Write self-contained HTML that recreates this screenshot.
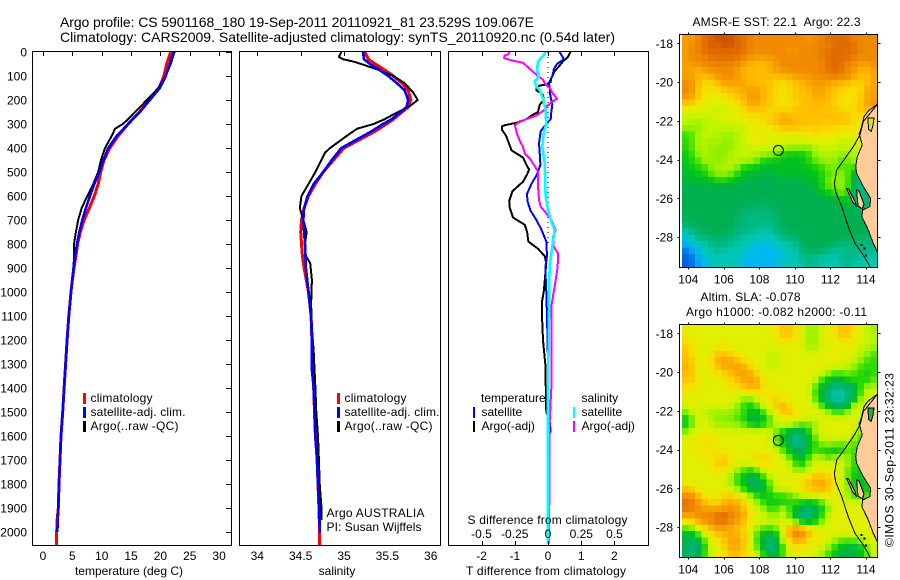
<!DOCTYPE html>
<html>
<head>
<meta charset="utf-8">
<title>Argo profile</title>
<style>
html,body{margin:0;padding:0;background:#fff;width:900px;height:580px;overflow:hidden}
svg{display:block}
text{font-family:"Liberation Sans",sans-serif;font-size:12px;fill:#000}
.big{font-size:14px}
.crisp{shape-rendering:crispEdges}
</style>
</head>
<body>
<svg id="chart" width="900" height="580" viewBox="0 0 900 580" xmlns="http://www.w3.org/2000/svg">
  <text class="big" x="60" y="27" textLength="474">Argo profile: CS 5901168_180 19-Sep-2011 20110921_81 23.529S 109.067E</text>
  <text class="big" x="60" y="42" textLength="555">Climatology: CARS2009. Satellite-adjusted climatology: synTS_20110920.nc (0.54d later)</text>

  <g id="layer-maps" class="crisp"></g>
  <g id="layer-lines" class="crisp"></g>
  <g id="layer-axes" class="crisp"></g>
  <g id="layer-labels"></g>

  <text x="129" y="575" text-anchor="middle">temperature (deg C)</text>
  <text x="337" y="575" text-anchor="middle">salinity</text>
  <text x="546" y="575" text-anchor="middle" textLength="160">T difference from climatology</text>
  <text x="467.5" y="524" textLength="160">S difference from climatology</text>

  <g class="crisp">
    <rect x="83" y="393" width="3" height="11" fill="#ff0000"/>
    <rect x="83" y="407" width="3" height="11" fill="#0000ff"/>
    <rect x="83" y="421" width="3" height="11" fill="#000"/>
    <rect x="337" y="393" width="3" height="11" fill="#ff0000"/>
    <rect x="337" y="407" width="3" height="11" fill="#0000ff"/>
    <rect x="337" y="421" width="3" height="11" fill="#000"/>
    <rect x="473" y="407" width="2" height="11" fill="#0000ff"/>
    <rect x="473" y="421" width="2" height="11" fill="#000"/>
    <rect x="573" y="407" width="2" height="11" fill="#00ffff"/>
    <rect x="573" y="421" width="2" height="11" fill="#ff00ff"/>
  </g>
  <text x="90.5" y="402" textLength="62">climatology</text>
  <text x="90.5" y="416" textLength="95">satellite-adj. clim.</text>
  <text x="90.5" y="430" textLength="88">Argo(..raw -QC)</text>
  <text x="344.5" y="402" textLength="62">climatology</text>
  <text x="344.5" y="416" textLength="95">satellite-adj. clim.</text>
  <text x="344.5" y="430" textLength="88">Argo(..raw -QC)</text>
  <text x="326.5" y="517" textLength="98">Argo AUSTRALIA</text>
  <text x="326.5" y="531" textLength="95">PI: Susan Wijffels</text>
  <text x="481" y="402">temperature</text>
  <text x="481.5" y="416">satellite</text>
  <text x="481.5" y="430">Argo(-adj)</text>
  <text x="581.5" y="402">salinity</text>
  <text x="581.5" y="416">satellite</text>
  <text x="581.5" y="430">Argo(-adj)</text>

  <text x="692.5" y="26" textLength="168" xml:space="preserve">AMSR-E SST: 22.1  Argo: 22.3</text>
  <text x="700.5" y="301" textLength="100">Altim. SLA: -0.078</text>
  <text x="686" y="316" textLength="181">Argo h1000: -0.082 h2000: -0.11</text>
  <text transform="translate(893.5,547) rotate(-90)" textLength="174">©IMOS 30-Sep-2011 23:32:23</text>
</svg>
<script>
// ---------- profile data ----------
var tickDepths = [0,100,200,300,400,500,600,700,800,900,1000,1100,1200,1300,1400,1500,1600,1700,1800,1900,2000];
var tempTicks = [0,5,10,15,20,25,30];
var salTicks = [34,34.5,35,35.5,36];
var diffTTicks = [-2,-1,0,1,2];
var diffSTicks = [-0.5,-0.25,0,0.25,0.5];

var depthTempClim = [0,50,100,150,200,250,300,350,400,450,500,550,600,650,700,750,800,850,880,950,1000,1100,1200,1300,1400,1500,1600,1700,1800,1900,1950,2000,2055];
var tempClim = [21.75,21.07,20.6,19.8,18.1,16.4,14.5,12.8,11.4,10.4,9.83,9.4,8.74,7.9,7.0,6.35,5.9,5.6,5.4,5.0,4.77,4.4,4.1,3.85,3.6,3.35,3.07,2.9,2.73,2.6,2.4,2.33,2.33];
var depthTempArgo = [0,50,100,150,200,250,280,300,320,350,400,450,500,550,600,650,700,750,800,850,900,1000,1100,1200,1300,1400,1500,1600,1700,1800,1900,2000];
var tempArgo = [22.4,21.75,20.9,19.65,17.7,15.67,14.5,13.6,12.27,11.7,10.56,9.88,9.4,8.57,7.55,6.6,6.0,5.6,5.28,5.28,5.2,4.77,4.4,4.1,3.85,3.6,3.35,3.07,2.88,2.71,2.58,2.44];
var depthTempSat = [0,50,100,150,200,250,300,350,400,450,500,550,600,650,700,750,800,850,900,950,1000,1050,1100,1200,1300,1400,1500,1600,1700,1800,1900,2000];
var tempSat = [22.2,21.6,20.9,19.9,18.2,16.5,14.5,12.55,11.1,10.3,9.6,8.74,8.0,7.3,6.7,6.2,5.8,5.5,5.2,5.0,4.77,4.6,4.4,4.1,3.85,3.6,3.35,3.07,2.9,2.73,2.6,2.44];

var depthSalClim = [0,30,50,75,100,130,160,200,230,250,280,300,330,350,400,450,500,550,600,650,700,750,800,850,900,1000,1100,1200,1300,1400,1500,1600,1700,1800,1900,2000,2055];
var salClim = [35.24,35.28,35.36,35.47,35.57,35.67,35.74,35.77,35.74,35.67,35.57,35.49,35.36,35.26,35.0,34.88,34.76,34.67,34.59,34.54,34.51,34.5,34.51,34.52,34.54,34.59,34.62,34.63,34.64,34.65,34.66,34.67,34.69,34.7,34.71,34.72,34.72];
var depthSalArgo = [0,20,30,40,50,75,100,130,170,200,225,260,280,300,320,350,400,420,500,550,600,650,700,750,800,850,880,950,1050,1150,1250,1400,1500,1600,1700,1800,1900,1950];
var salArgo = [34.97,34.94,34.99,35.11,35.2,35.4,35.57,35.7,35.8,35.85,35.76,35.57,35.47,35.34,35.15,35.03,34.84,34.78,34.67,34.59,34.51,34.49,34.53,34.57,34.55,34.56,34.61,34.63,34.62,34.63,34.65,34.67,34.68,34.7,34.71,34.72,34.74,34.74];
var depthSalSat = [0,30,50,75,100,130,160,200,230,250,280,300,330,350,400,450,500,550,600,650,700,800,900,1000,1100,1200,1325,1400,1500,1600,1700,1800,1900,2004];
var salSat = [35.22,35.23,35.3,35.41,35.51,35.61,35.7,35.74,35.72,35.65,35.55,35.45,35.32,35.22,34.97,34.86,34.76,34.65,34.58,34.54,34.53,34.55,34.56,34.59,34.62,34.63,34.63,34.65,34.66,34.67,34.69,34.7,34.715,34.72];

var depthDiffTArgo = [0,20,40,60,80,110,125,135,140,150,160,170,180,200,220,250,265,280,295,305,310,325,350,390,410,440,470,490,510,540,580,620,650,690,720,750,790,820,850,880,1000,1040,1100,1200,1300,1500,1510,2050];
var diffTArgo = [0.68,0.6,0.45,0.33,0.2,0.1,0.08,-0.03,-0.25,-0.35,-0.35,-0.22,-0.15,-0.13,-0.25,-0.3,-0.5,-0.65,-0.95,-1.3,-1.39,-1.38,-1.26,-1.15,-1.1,-0.75,-0.65,-0.57,-0.63,-0.75,-1.07,-1.17,-1.15,-1.05,-0.7,-0.63,-0.59,-0.3,-0.1,-0.05,-0.13,-0.18,-0.18,-0.15,-0.08,-0.05,-0.02,0];
var depthDiffTSat = [0,30,50,70,100,130,150,180,220,250,280,300,330,380,420,470,510,550,590,620,660,700,740,790,850,900,1000,1100,1300,1500,1580,1600,2050];
var diffTSat = [0.35,0.48,0.27,0.18,0.13,0.03,0.05,0.07,0.13,0.1,0.08,-0.05,-0.22,-0.27,-0.25,-0.23,-0.33,-0.5,-0.63,-0.62,-0.53,-0.35,-0.2,-0.05,-0.03,-0.08,-0.05,-0.03,0,0.02,0.08,0.02,0.02];
var depthDiffSArgo = [0,10,15,25,35,45,60,80,100,115,135,150,170,195,205,225,240,265,280,295,305,340,370,395,422,443,475,498,561,617,644,672,700,742,769,811,839,894,978,1061,1200,1400,1550,2050];
var diffSArgo = [-0.288,-0.3,-0.326,-0.33,-0.276,-0.188,-0.158,-0.118,-0.075,-0.038,-0.018,0.013,0.033,0.068,0.038,-0.008,-0.023,-0.088,-0.163,-0.226,-0.25,-0.233,-0.213,-0.188,-0.175,-0.138,-0.1,-0.075,-0.075,-0.068,-0.055,-0.013,0.025,0.058,0.038,0.043,0.075,0.073,0.05,0.025,0.025,0.025,0.012,0.008];
var depthDiffSSat = [0,8,40,75,103,124,144,158,193,242,297,339,394,464,547,603,658,707,742,783,839,894,978,1061,1200,1400,2050];
var diffSSat = [-0.025,-0.025,-0.075,-0.083,-0.07,-0.1,-0.088,-0.063,-0.038,-0.018,-0.013,-0.033,-0.043,-0.025,-0.02,-0.018,0,0.025,0.05,0.038,0.025,0.013,0.008,0.008,0.005,0,0];

// ---------- map data (one hex colour level per cell, 0 = warm/high ... f = cold/low) ----------
var mapLonTicks = [104,106,108,110,112,114];
var mapLatTicks = [18,20,22,24,26,28];
var mapLonRange = [103.645,114.62];
var mapLatRange = [17.57,29.55];
var floatLon = 109.067;
var floatLat = 23.529;
var levelColors = ['#cc5000','#e06c00','#f08a00','#f8a000','#ffbe00','#f5e000','#e0f000','#c0f400','#8cf000','#30dc00','#00c020','#00b050','#00b880','#00c8b4','#00b8f0','#0060e0'];
var sstRows = [
'33211 00011 22222 22223 22111 12222',
'32210 10011 22222 22222 22211 11222',
'32211 11111 22222 23322 21111 11222',
'32221 11112 23332 22222 22111 12222',
'33222 22223 44443 22222 22111 22332',
'33432 22234 44433 22222 22111 23443',
'33444 32233 44444 44333 22212 23443',
'22455 43333 44445 55443 33344 45543',
'22555 54443 33445 55444 33445 55533',
'23456 65544 32445 55444 33445 55533',
'44566 66554 33445 55544 44455 55432',
'66666 77665 44455 55444 44445 55443',
'67777 66665 55554 34444 44444 45555',
'77877 76766 55544 33444 44444 45555',
'88877 77777 66655 44445 45555 55555',
'99777 78877 66666 66665 55556 66666',
'99778 78877 55566 66666 66667 76666',
'99778 88877 77777 78889 77777 77777',
'a9878 88777 77788 aaaa9 87778 87776',
'a9978 88777 78aaa aaaa9 88889 88777',
'aa998 7778a aaaaa aaaaa a9889 98b77',
'aaaa8 8889a aabba aaaaa a9988 8bbba',
'baaaa 99aab bbbbb bbbba aa888 8cccb',
'bbbbb bbbbb bbbbb bbbbb b9888 8cccb',
'bbbbb bbbbb bbbbb bbbbb baa98 8cccb',
'bbbbb bbbbb bbbbb bbbbb bbbba 9cccb',
'bbbbb bbbbb bbcbb bbbbb bbbbb acccb',
'bbbbb bbbbc ccccb bbbbb bbbbb bbbbb',
'bbbbb bbbbc ccccc bbbbb bbbbb bbbbb',
'cbbbb bbbcc ccccc bbbbb bbbbb bbbbb',
'dccbb bbbcc cdddc bbbbb bbbbb bbbbb',
'edccc bcccd ddddd cccbb bbbbb bbbcc',
'eeddc cccdd deeed ddcbb bbbbc ccccc',
'feedd cdddd eeeee dddcb bbcdd ccccc',
'ffeed dddde eeeee eddcc ddddc ccddd',
'ffeed dddde eeeee ddddc cdddd cdddd'
];
var slaRows = [
'66666 66666 66665 44568 86654 45678',
'56666 66666 66665 44568 86654 45677',
'55666 66666 66666 55668 86665 56677',
'45666 55666 66666 66668 86666 66778',
'45666 44556 66677 66666 66666 66789',
'44665 33345 66677 66666 66666 67899',
'34665 43333 56677 66666 66666 78999',
'44666 55433 35666 66666 66899 899a9',
'44566 65543 33566 66666 6aabb 999a8',
'55566 66554 33566 66666 9abcc cb988',
'56666 66665 55556 66666 9bcdd cb966',
'66666 66669 96654 56666 9bcdd cb866',
'66666 66689 a9664 35666 69bbc b6699',
'96688 88889 ab975 43566 66899 86699',
'a9667 88899 bba97 66566 66666 66699',
'a9667 88889 aba96 66899 96666 66896',
'96666 66666 66669 abcb9 66666 66899',
'66655 66666 66669 abdcb 96666 68999',
'66555 66666 66669 aadca 98889 89996',
'66555 56666 66666 9abca 9aabb 89999',
'66665 54566 64456 69ab9 68986 89aa9',
'66665 44566 65556 669a8 66666 89aa9',
'66666 55689 a9666 66996 66666 99aa9',
'66666 6689a bb966 66555 44466 9aaa9',
'66666 6689a bcb96 66654 33456 8aaa9',
'44666 6668a bba96 66554 43466 8aaa9',
'22456 64455 89aa9 a9966 66666 89aa6',
'11345 54344 689aa a99ab a9666 66666',
'12233 33234 66899 69abc ca966 66666',
'33222 10223 56689 69bdc a9666 66666',
'55322 11234 56666 66abc b9666 66666',
'99654 33445 68999 63124 56666 66666',
'ab965 44344 69abb 64124 56666 66666',
'bcb96 54334 69bcb 65345 66689 99866',
'bcca6 65334 69bdc a6556 6689a bba96',
'bcb96 65445 669ba 96666 689ab bba96'
];
// coast outlines in degrees (lon, lat)
var landLon = [114.64,114.13,113.89,113.76,113.62,113.79,113.51,113.42,113.47,113.85,114.26,114.22,113.81,113.77,114.13,114.41,114.64];
var landLat = [21.15,21.49,21.79,22.30,22.68,23.25,23.85,24.37,24.71,25.40,26.00,26.43,26.61,26.95,27.64,28.33,28.76];
var gulfLon = [114.1,114.45,114.4,114.3,114.15];
var gulfLat = [21.85,21.85,22.2,22.55,22.45];
var peninsulaLon = [113.47,113.6,113.89,113.8,113.55];
var peninsulaLat = [25.57,25.62,26.30,26.55,26.4];
var islandLon = [112.91,113.02,113.38,113.47,113.25];
var islandLat = [25.49,25.52,26.17,26.43,26.2];
var shelfLon = [114.64,113.85,113.66,113.29,112.82,112.35,112.22,112.29,112.63,113.0,113.38,113.85,114.22];
var shelfLat = [21.15,22.04,22.73,23.33,23.94,24.54,25.23,25.66,26.43,27.47,28.33,28.93,29.53];
var abrolhosLon = [113.7,113.95,113.85];
var abrolhosLat = [28.35,28.9,28.55];

// ---------- axis functions ----------
function yDepth(d){return 52+0.24*d;}
function xTemp(t){return 43+5.87*t;}
function xSal(s){return 257.3+86.7*(s-34);}
function xDiffT(t){return 548+33.2*t;}
function xDiffS(s){return 548+133*s;}
function mapX(lon){return 688.3+17.77*(lon-104);}
function mapY(lat,top){return top+19.37*(lat-18);}

var NS='http://www.w3.org/2000/svg';
var maps=document.getElementById('layer-maps');
var lines=document.getElementById('layer-lines');
var axes=document.getElementById('layer-axes');
var labels=document.getElementById('layer-labels');
function mk(tag,parent,geom){
  var e=document.createElementNS(NS,tag);
  for(var k in geom){e.setAttribute(k,geom[k]);}
  parent.appendChild(e);
  return e;
}
function drawProfile(depths,values,xf,color,width,name){
  var pts=[];
  for(var i=0;i<depths.length;i++){pts.push(xf(values[i]).toFixed(1)+','+yDepth(depths[i]).toFixed(1));}
  var el=mk('polyline',lines,{points:pts.join(' '),fill:'none',stroke:color,'stroke-width':width,'stroke-linejoin':'round'});
  
  
}
function seg(x1,y1,x2,y2){
  var el=mk('line',axes,{x1:x1,y1:y1,x2:x2,y2:y2,stroke:'#000','stroke-width':1});
  
  
}
function frame(x,y,w,h,name){
  var el=mk('rect',axes,{x:x,y:y,width:w,height:h,fill:'none',stroke:'#000','stroke-width':1});
  
  
}
function label(x,y,txt,anchor){
  var el=mk('text',labels,{x:x,y:y,'text-anchor':anchor});
  el.textContent=txt;
  
  
}

// ---------- profile panels ----------
var panelTop=51.5, panelBottom=545.5;
frame(32.5,panelTop,199,494,'temperature-panel-frame');
frame(239.5,panelTop,201,494,'salinity-panel-frame');
frame(448.5,panelTop,200,494,'difference-panel-frame');

drawProfile(depthTempClim,tempClim,xTemp,'#ff0000',3,'temperature-climatology-line');
drawProfile(depthTempArgo,tempArgo,xTemp,'#000000',2,'temperature-argo-line');
drawProfile(depthTempSat,tempSat,xTemp,'#0000ff',2.6,'temperature-satellite-line');
drawProfile(depthSalClim,salClim,xSal,'#ff0000',3,'salinity-climatology-line');
drawProfile(depthSalArgo,salArgo,xSal,'#000000',2,'salinity-argo-line');
drawProfile(depthSalSat,salSat,xSal,'#0000ff',2.6,'salinity-satellite-line');

// zero reference in the difference panel
var zeroLine=mk('line',lines,{x1:xDiffT(0),y1:yDepth(0),x2:xDiffT(0),y2:yDepth(800),stroke:'#000','stroke-width':1,'stroke-dasharray':'1 4'});


drawProfile(depthDiffTArgo,diffTArgo,xDiffT,'#000000',2,'t-difference-argo-line');
drawProfile(depthDiffTSat,diffTSat,xDiffT,'#0000ff',2,'t-difference-satellite-line');
drawProfile(depthDiffSArgo,diffSArgo,xDiffS,'#ff00ff',2,'s-difference-argo-line');
drawProfile(depthDiffSSat,diffSSat,xDiffS,'#00ffff',2.6,'s-difference-satellite-line');

tickDepths.forEach(function(d){
  var y=Math.round(yDepth(d))+0.5;
  seg(226,y,232,y);
  label(27,yDepth(d)+4.5,String(d),'end');
});
tempTicks.forEach(function(t){
  var x=Math.round(xTemp(t))+0.5;
  seg(x,52,x,56);
  label(xTemp(t),560,String(t),'middle');
});
salTicks.forEach(function(s){
  var x=Math.round(xSal(s))+0.5;
  seg(x,52,x,56);
  label(xSal(s),560,String(s),'middle');
});
diffTTicks.forEach(function(t){
  var x=Math.round(xDiffT(t))+0.5;
  seg(x,52,x,56);
  seg(x,541,x,545);
  label(xDiffT(t),560,String(t),'middle');
});
diffSTicks.forEach(function(s){
  label(xDiffS(s),538,String(s),'middle');
});

// ---------- maps ----------
function parseHex(h){return [parseInt(h.substr(1,2),16),parseInt(h.substr(3,2),16),parseInt(h.substr(5,2),16)];}
function colorAt(level){
  var i=Math.min(Math.floor(level),levelColors.length-2), f=level-i;
  var a=parseHex(levelColors[i]), b=parseHex(levelColors[i+1]);
  return 'rgb('+Math.round(a[0]+(b[0]-a[0])*f)+','+Math.round(a[1]+(b[1]-a[1])*f)+','+Math.round(a[2]+(b[2]-a[2])*f)+')';
}
function smoothLevels(rows){
  var g=rows.map(function(r){return r.replace(/ /g,'').split('').map(function(ch){return parseInt(ch,16);});});
  var out=[];
  for(var r=0;r<g.length;r++){
    out.push([]);
    for(var c=0;c<g[r].length;c++){
      var sum=0,w=0;
      for(var dr=-1;dr<=1;dr++){for(var dc=-1;dc<=1;dc++){
        var rr=Math.max(0,Math.min(g.length-1,r+dr)), cc=Math.max(0,Math.min(g[r].length-1,c+dc));
        var k=(dr===0&&dc===0)?6:((dr===0||dc===0)?2:1);
        sum+=g[rr][cc]*k; w+=k;
      }}
      out[r].push(sum/w);
    }
  }
  return out;
}
function polygon(lons,lats,top,fill,stroke,clipId,name){
  var pts=[];
  for(var i=0;i<lons.length;i++){pts.push(mapX(lons[i]).toFixed(1)+','+mapY(lats[i],top).toFixed(1));}
  var el=mk('polygon',maps,{points:pts.join(' '),fill:fill,stroke:stroke,'stroke-width':1,'clip-path':'url(#'+clipId+')'});
  
  
}
function drawMap(rows,top,gulfColor,prefix){
  var levels=smoothLevels(rows);
  var nCols=levels[0].length, nRows=levels.length;
  var lonStep=(mapLonRange[1]-mapLonRange[0])/nCols, latStep=(mapLatRange[1]-mapLatRange[0])/nRows;
  var left=mapX(mapLonRange[0]), right=mapX(mapLonRange[1]);
  var yTop=mapY(mapLatRange[0],top), yBot=mapY(mapLatRange[1],top);
  var defs=mk('clipPath',maps,{id:prefix+'-clip'});
  mk('rect',defs,{x:left,y:yTop,width:right-left,height:yBot-yTop});
  levels.forEach(function(row,r){
    for(var c=0;c<nCols;c++){
      var x0=mapX(mapLonRange[0]+c*lonStep), x1=mapX(mapLonRange[0]+(c+1)*lonStep);
      var y0=mapY(mapLatRange[0]+r*latStep,top), y1=mapY(mapLatRange[0]+(r+1)*latStep,top);
      var cell=mk('rect',maps,{x:x0,y:y0,width:x1-x0+0.4,height:y1-y0+0.4,fill:colorAt(row[c])});
      
      
    }
  });
  var clip=prefix+'-clip';
  var lx=landLon.concat([114.64]), ly=landLat.concat([21.15]);
  polygon(lx,ly,top,'#ffcc99','#000',clip,'land-mass');
  polygon(gulfLon,gulfLat,top,gulfColor,'#000',clip,'gulf');
  polygon(peninsulaLon,peninsulaLat,top,'#ffcc99','#000',clip,'peninsula');
  polygon(islandLon,islandLat,top,'#ffcc99','#000',clip,'island');
  var pts=[];
  for(var i=0;i<shelfLon.length;i++){pts.push(mapX(shelfLon[i]).toFixed(1)+','+mapY(shelfLat[i],top).toFixed(1));}
  var shelf=mk('polyline',maps,{points:pts.join(' '),fill:'none',stroke:'#000','stroke-width':1,'clip-path':'url(#'+clip+')'});
  
  
  for(var a=0;a<abrolhosLon.length;a++){
    var dot=mk('rect',maps,{x:mapX(abrolhosLon[a]),y:mapY(abrolhosLat[a],top),width:2,height:2,fill:'#000'});
    
    
  }
  var marker=mk('circle',lines,{cx:mapX(floatLon),cy:mapY(floatLat,top),r:5,fill:'none',stroke:'#000','stroke-width':1});
  marker.style.shapeRendering='auto';
  
  

  var fx=679.5, fw=198, fy=Math.round(yTop)-1+0.5, fh=Math.round(yBot)-Math.round(yTop)+1;
  frame(fx,fy,fw,fh,prefix+'-map-frame');
  mapLonTicks.forEach(function(lon){
    var x=Math.round(mapX(lon))+0.5;
    seg(x,fy-2,x,fy);
    seg(x,fy+fh,x,fy+fh+2);
    label(mapX(lon),fy+fh+16,String(lon),'middle');
  });
  mapLatTicks.forEach(function(lat){
    var y=Math.round(mapY(lat,top))+0.5;
    seg(fx-2,y,fx,y);
    seg(fx+fw,y,fx+fw+3,y);
    label(673,mapY(lat,top)+4.5,'-'+lat,'end');
  });
}
drawMap(sstRows,43.3,'#d0f000','sst');
drawMap(slaRows,333.3,'#20b040','sla');
</script>
</body>
</html>
